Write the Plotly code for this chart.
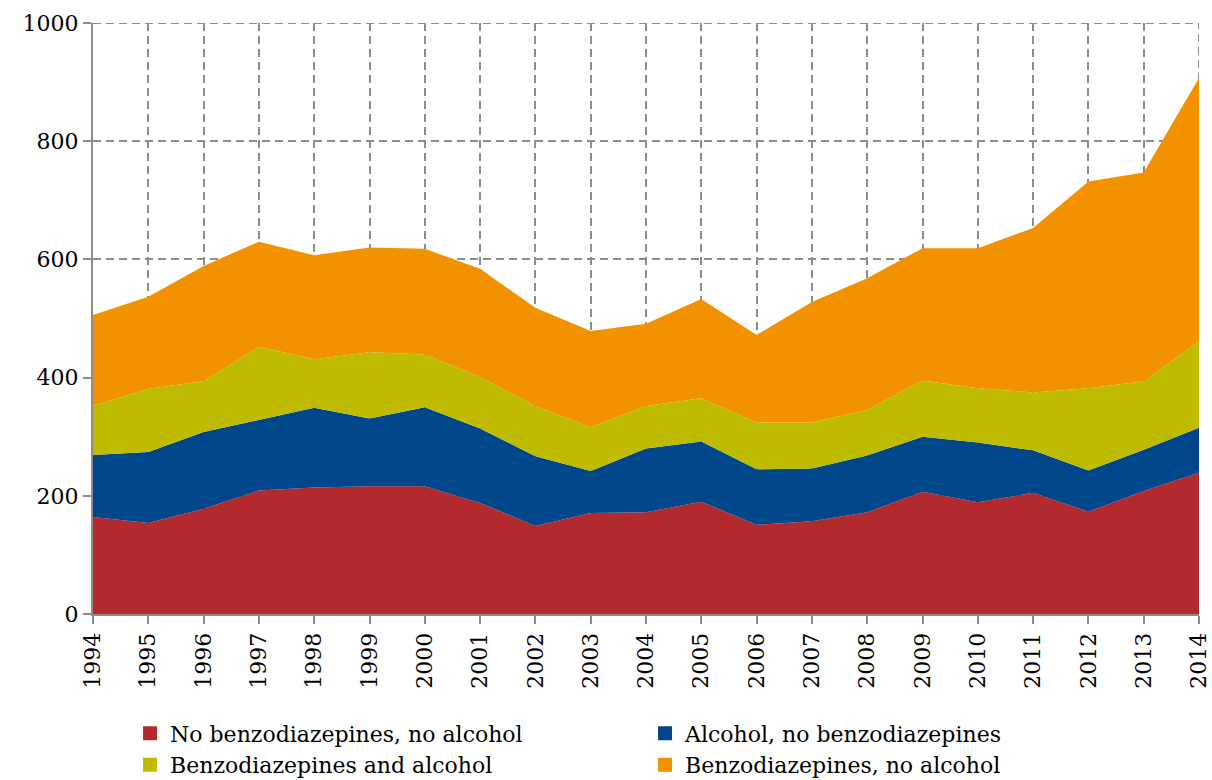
import plotly.graph_objects as go

years = list(range(1994, 2015))
no_benzo_no_alcohol = [164, 154, 178, 209, 214, 216, 216, 188, 149, 171, 172, 190, 151, 157, 172, 207, 189, 205, 173, 208, 239]
alcohol_no_benzo = [105, 120, 130, 119, 135, 115, 134, 126, 118, 71, 108, 102, 94, 89, 96, 93, 101, 72, 70, 70, 76]
benzo_and_alcohol = [83, 107, 86, 124, 82, 112, 89, 87, 85, 74, 72, 73, 79, 78, 77, 95, 92, 98, 139, 116, 146]
benzo_no_alcohol = [154, 156, 195, 178, 176, 177, 179, 183, 166, 163, 139, 168, 148, 204, 223, 224, 237, 278, 350, 353, 446]

series = [
    ("No benzodiazepines, no alcohol", no_benzo_no_alcohol, "#B2292E"),
    ("Alcohol, no benzodiazepines", alcohol_no_benzo, "#00468A"),
    ("Benzodiazepines and alcohol", benzo_and_alcohol, "#BFBB00"),
    ("Benzodiazepines, no alcohol", benzo_no_alcohol, "#F29200"),
]

FONT = "DejaVu Serif"
GRID = "#8C8C8C"
DASH = "8px,5px"

fig = go.Figure()
for name, vals, col in series:
    fig.add_trace(go.Scatter(
        x=years, y=vals, name=name, stackgroup="one", mode="lines",
        line=dict(width=0, color=col), fillcolor=col, showlegend=False,
        hoverinfo="x+y+name",
    ))
for name, vals, col in series:
    fig.add_trace(go.Scatter(
        x=[None], y=[None], name=name, mode="markers",
        marker=dict(symbol="square", size=14, color=col), showlegend=True,
    ))

# edge gridlines (top at 1000 and right at 2014), which plotly skips at range ends
fig.add_shape(type="line", xref="x", yref="y", x0=years[0], x1=years[-1], y0=1000, y1=1000,
              line=dict(color=GRID, width=2, dash=DASH), layer="below")
fig.add_shape(type="line", xref="x", yref="y", x0=years[-1], x1=years[-1], y0=0, y1=1000,
              line=dict(color=GRID, width=2, dash=DASH), layer="below")

fig.update_layout(
    width=1212, height=780,
    margin=dict(l=93, r=13, t=23, b=166, autoexpand=False),
    paper_bgcolor="white", plot_bgcolor="white",
    font=dict(family=FONT, size=22, color="black"),
    showlegend=True,
    legend=dict(
        orientation="h", x=0.0335, xanchor="left", y=-0.1665, yanchor="top",
        entrywidth=470, entrywidthmode="pixels", traceorder="normal",
        font=dict(family=FONT, size=22, color="black"),
        itemclick=False, itemdoubleclick=False, tracegroupgap=0,
    ),
    xaxis=dict(
        range=[1994, 2014], tickmode="array", tickvals=years,
        ticktext=[str(y) for y in years], tickangle=-90,
        showgrid=True, gridcolor=GRID, griddash=DASH, gridwidth=2,
        showline=True, linecolor=GRID, linewidth=2,
        ticks="outside", ticklen=8, tickcolor=GRID, tickwidth=2,
        zeroline=False, ticklabeloverflow="allow",
    ),
    yaxis=dict(
        range=[0, 1000], dtick=200, tick0=0,
        showgrid=True, gridcolor=GRID, griddash=DASH, gridwidth=2,
        showline=True, linecolor=GRID, linewidth=2,
        ticks="outside", ticklen=8, tickcolor=GRID, tickwidth=2,
        zeroline=False,
    ),
)

fig.write_html(
    "out.html",
    config={"displayModeBar": False},
    post_script="document.body.style.margin='0';document.body.style.overflow='hidden';",
)
